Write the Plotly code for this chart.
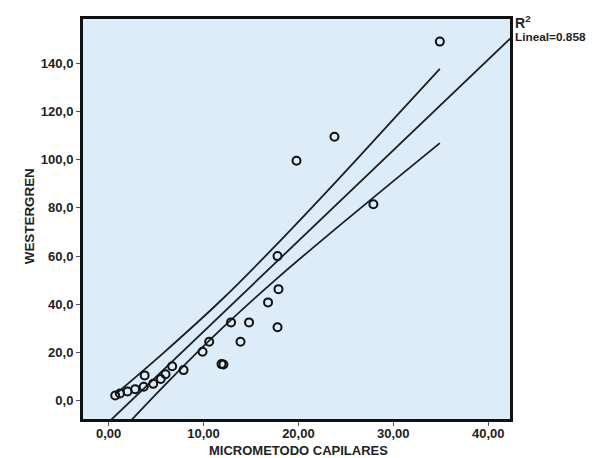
import plotly.graph_objects as go

# Scatter data (MICROMETODO CAPILARES vs WESTERGREN)
x_vals = [0.7, 1.2, 2.0, 2.8, 3.7, 3.8, 4.7, 5.5, 6.0, 6.7, 7.9, 9.9, 10.6,
          11.9, 12.1, 12.9, 13.9, 14.8, 16.8, 17.8, 17.9, 17.8, 19.8, 23.8, 27.9, 34.9]
y_vals = [2.2, 3.0, 3.8, 4.8, 5.8, 10.5, 7.0, 9.0, 11.0, 14.3, 12.7, 20.3, 24.5,
          15.2, 15.0, 32.5, 24.5, 32.5, 40.8, 30.5, 46.3, 60.0, 99.6, 109.5, 81.5, 149.0]

# Fitted linear line
fit_x = [-3.0, 43.0]
fit_y = [-20.2, 152.8]

# Confidence band lines
ci_x = [0.7, 6.0, 12.0, 18.0, 24.0, 30.0, 34.9]
ci_upper = [2.6, 20.6, 42.2, 66.0, 91.0, 116.7, 137.7]
ci_lower = [-15.2, 6.8, 30.2, 51.6, 71.6, 91.1, 106.9]

x_ticks = [0, 10, 20, 30, 40]
y_ticks = [0, 20, 40, 60, 80, 100, 120, 140]

r2_text = "Lineal=0.858"

line_col = "#1e1e1e"
fig = go.Figure()
fig.add_trace(go.Scatter(x=fit_x, y=fit_y, mode="lines",
                         line=dict(color=line_col, width=1.8), hoverinfo="skip"))
fig.add_trace(go.Scatter(x=ci_x, y=ci_upper, mode="lines",
                         line=dict(color=line_col, width=1.8, shape="spline", smoothing=1.0),
                         hoverinfo="skip"))
fig.add_trace(go.Scatter(x=ci_x, y=ci_lower, mode="lines",
                         line=dict(color=line_col, width=1.8, shape="spline", smoothing=1.0),
                         hoverinfo="skip"))
fig.add_trace(go.Scatter(x=x_vals, y=y_vals, mode="markers",
                         marker=dict(symbol="circle-open", size=8, color="#111111",
                                     line=dict(width=2, color="#111111"))))

font_fam = "Liberation Sans, Arial, sans-serif"
tick_font = dict(family=font_fam, size=13, color="#222222", weight="bold")
# page body has an 8px margin, so the figure is sized/margined to compensate
fig.update_layout(
    width=589, height=450,
    margin=dict(l=74, r=86, t=10, b=38),
    paper_bgcolor="white",
    plot_bgcolor="#dcedf9",
    showlegend=False,
    separators=",.",
    font=dict(family=font_fam, size=13, color="#222222"),
    xaxis=dict(range=[-2.8, 42.4], tickvals=x_ticks, tickformat=".2f",
               showgrid=False, zeroline=False, showline=True, mirror=True,
               linecolor="#111111", linewidth=2, ticks="outside", ticklen=4,
               tickcolor="#555555", tickfont=tick_font, automargin=False,
               ticklabelstandoff=-4),
    yaxis=dict(range=[-8.0, 158.8], tickvals=y_ticks, tickformat=".1f",
               showgrid=False, zeroline=False, showline=True, mirror=True,
               linecolor="#111111", linewidth=2, ticks="outside", ticklen=4,
               tickcolor="#555555", tickfont=tick_font, automargin=False),
    shapes=[dict(type="rect", xref="paper", yref="paper", x0=0, y0=0, x1=1, y1=1,
                 line=dict(color="#111111", width=2), fillcolor="rgba(0,0,0,0)",
                 layer="above")],
    annotations=[
        dict(text="<b>MICROMETODO CAPILARES</b>", xref="paper", yref="paper",
             x=0.5035, y=-0.077, showarrow=False, xanchor="center", yanchor="middle",
             font=dict(size=13, color="#222222")),
        dict(text="<b>WESTERGREN</b>", xref="paper", yref="paper",
             x=-0.1235, y=0.507, showarrow=False, xanchor="center", yanchor="middle",
             textangle=-90, font=dict(size=13.4, color="#222222")),
        dict(text="<b>R<sup>2</sup></b>", xref="paper", yref="paper",
             x=1.004, y=0.99, showarrow=False, xanchor="left", yanchor="middle",
             font=dict(size=14, color="#222222")),
        dict(text="<b>" + r2_text + "</b>", xref="paper", yref="paper",
             x=1.004, y=0.952, showarrow=False, xanchor="left", yanchor="middle",
             font=dict(size=11.8, color="#222222")),
    ],
)

fig.write_html("out.html")
